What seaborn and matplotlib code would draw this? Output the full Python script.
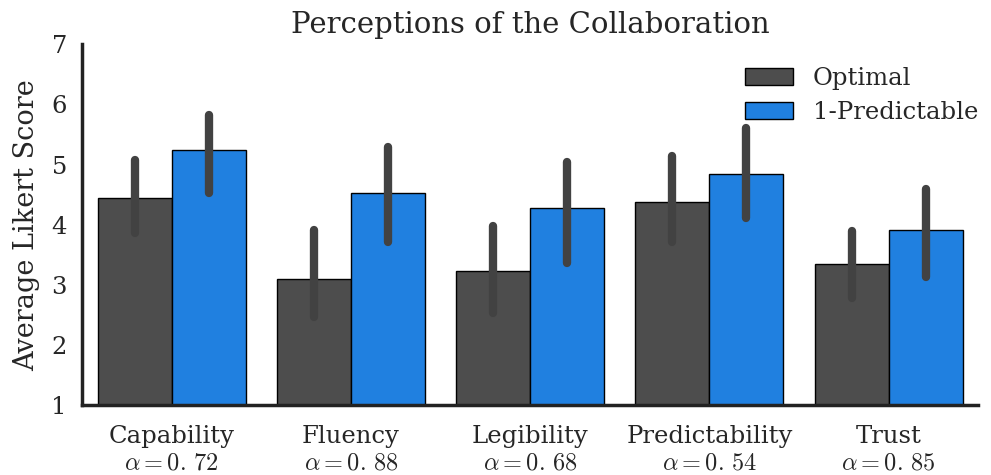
import numpy as np
import pandas as pd
import matplotlib
matplotlib.use('agg')
import seaborn as sns
import matplotlib.pyplot as plt

# values
measures = ["Capability", "Fluency", "Legibility", "Predictability", "Trust"]
alphas = ["0.72", "0.88", "0.68", "0.54", "0.85"]
conditions = ["Optimal", "1-Predictable"]
optimal_mean = [4.45, 3.09, 3.23, 4.37, 3.34]
optimal_lo = [3.86, 2.46, 2.53, 3.71, 2.78]
optimal_hi = [5.08, 3.91, 3.97, 5.14, 3.89]
pred_mean = [5.24, 4.52, 4.27, 4.85, 3.91]
pred_lo = [4.52, 3.72, 3.36, 4.11, 3.13]
pred_hi = [5.82, 5.29, 5.05, 5.60, 4.59]

df = pd.DataFrame({
    "measure": measures * 2,
    "condition": [conditions[0]] * 5 + [conditions[1]] * 5,
    "score": optimal_mean + pred_mean,
    "lo": optimal_lo + pred_lo,
    "hi": optimal_hi + pred_hi,
})

sns.set_theme(style="white")
plt.rcParams['font.family'] = ['DejaVu Serif']
plt.rcParams['mathtext.fontset'] = 'cm'

fig, ax = plt.subplots(figsize=(9.91, 4.75), dpi=100)
sns.barplot(data=df, x="measure", y="score", hue="condition", ax=ax,
            palette=["#4d4d4d", "#2080e0"], edgecolor="black", linewidth=1,
            errorbar=None, width=0.826, saturation=1)

# error bars at bar centres
for cont, cond in zip(ax.containers, conditions):
    sub = df[df.condition == cond]
    for bar, lo, hi in zip(cont, sub.lo, sub.hi):
        xc = bar.get_x() + bar.get_width() / 2
        ax.plot([xc, xc], [lo, hi], color="#424242", lw=6, solid_capstyle="round", zorder=3)

ax.set_ylim(1, 7)
ax.set_xlim(-0.5, 4.5)
ax.set_yticks(range(1, 8))
ax.tick_params(axis='y', labelsize=17.5, pad=5)
ax.set_xticks(range(5))
ax.set_xticklabels([m + "\n" + r"$\alpha = " + a.replace(".", r".\,") + "$" for m, a in zip(measures, alphas)],
                   fontsize=17.5, linespacing=1.2)
ax.tick_params(axis='x', pad=8)
ax.set_xlabel("")
ax.set_ylabel("Average Likert Score", fontsize=19.5, labelpad=8)
ax.set_title("Perceptions of the Collaboration", fontsize=21, pad=8)
sns.despine(ax=ax)
for s in ["left", "bottom"]:
    ax.spines[s].set_linewidth(2.5)
    ax.spines[s].set_color("#222222")

ax.legend(frameon=False, fontsize=17.5, loc="upper right", bbox_to_anchor=(1.019, 0.985),
          handlelength=2.0, handleheight=0.7, labelspacing=0.45, borderaxespad=0.3)

plt.subplots_adjust(left=0.083, right=0.987, bottom=0.147, top=0.907)
plt.savefig("out.png", dpi=100)
